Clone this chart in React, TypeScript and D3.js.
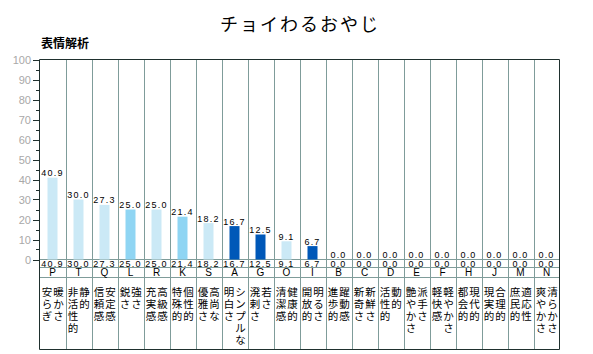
import React from 'react';
import * as d3 from 'd3';

// categories (code letters), values in %, and the two-word labels under each bar
const codes = ['P', 'T', 'Q', 'L', 'R', 'K', 'S', 'A', 'G', 'O', 'I', 'B', 'C', 'D', 'E', 'F', 'H', 'J', 'M', 'N'];
const values = [40.9, 30.0, 27.3, 25.0, 25.0, 21.4, 18.2, 16.7, 12.5, 9.1, 6.7, 0, 0, 0, 0, 0, 0, 0, 0, 0];
const wordsLeft = ['安らぎ', '非活性的', '信頼感', '鋭さ', '充実感', '特殊的', '優雅さ', '明白さ', '溌剌さ', '清潔感',
    '開放的', '進歩的', '新奇さ', '活性的', '艶やかさ', '軽快感', '都会的', '現実的', '庶民的', '爽やかさ'];
const wordsRight = ['暖かさ', '静的', '安定感', '強さ', '高級感', '個性的', '高尚な', 'シンプルな', '若さ', '健康的',
    '明るさ', '躍動感', '新鮮さ', '動的', '派手さ', '軽やかさ', '現代的', '合理的', '適応性', '清らかさ'];
const levels = [0, 0, 0, 1, 0, 1, 0, 2, 2, 0, 2, 0, 0, 0, 0, 0, 0, 0, 0, 0];
const yTicks = [0, 10, 20, 30, 40, 50, 60, 70, 80, 90, 100];

const title = 'チョイわるおやじ';
const subtitle = '表情解析';

const App = () => {
    // Define the dimensions of the chart
    const width = 593;
    const height = 354;
    const left = 39.5;
    const right = 559.5;
    const top = 59.5;
    const zeroY = 259.5;
    const valRowBottom = 267.5;
    const codeRowBottom = 277.5;
    const bottom = 349.5;

    const barColors = ['#cbe9f6', '#8fd5f3', '#0058b8'];
    const gridColor = '#7f9c9a';
    const darkColor = '#1f302e';
    const numFont = '"Liberation Sans", Arial, sans-serif';
    const jpFont = '"Noto Sans CJK JP", sans-serif';

    const x = d3.scaleBand().domain(codes).range([left, right]).padding(0);
    const y = d3.scaleLinear().domain([0, 100]).range([zeroY, top]);
    const bw = 10;
    const minorTicks = d3.range(5, 100, 10);
    const fs = 10.5;
    const pitch = 11.5; // distance between the two character columns

    // each label row: chars of the left word and right word side by side
    const rowsFor = (i: number) => {
        const l = Array.from(wordsLeft[i]);
        const r = Array.from(wordsRight[i]);
        const n = Math.max(l.length, r.length);
        return d3.range(n).map(k => ({ l: l[k] || '', r: r[k] || '' }));
    };

    return (
        <svg width={width} height={height} style={{ position: 'absolute', left: 0, top: 0, background: '#fff' }}>
            <text x={300} y={31} textAnchor="middle" fontFamily={jpFont} fontSize={18} letterSpacing={2} fill="#000">{title}</text>
            <text x={41} y={48} fontFamily={jpFont} fontSize={12} fontWeight="bold" fill="#000">{subtitle}</text>

            {/* vertical grid lines through plot and table */}
            {codes.slice(1).map(c => (
                <line key={'g' + c} x1={Math.round(x(c)!) + 0.5} x2={Math.round(x(c)!) + 0.5} y1={top} y2={bottom}
                    stroke={gridColor} />
            ))}

            {/* table horizontal lines */}
            <line x1={left} x2={right} y1={zeroY} y2={zeroY} stroke={gridColor} />
            <line x1={left} x2={right} y1={valRowBottom} y2={valRowBottom} stroke={gridColor} />
            <line x1={left} x2={right} y1={codeRowBottom} y2={codeRowBottom} stroke={gridColor} />

            {/* bars */}
            {values.map((v, i) => (
                <rect key={'b' + i} x={x(codes[i])! + x.bandwidth() / 2 - bw / 2} y={y(v)} width={bw}
                    height={zeroY - y(v)} fill={barColors[levels[i]]} />
            ))}

            {/* value labels over bars */}
            {values.map((v, i) => (
                <text key={'v' + i} x={x(codes[i])! + x.bandwidth() / 2} y={y(v) - 1.5} textAnchor="middle"
                    fontFamily={numFont} fontSize={9} letterSpacing={1.2} fill="#000">{v.toFixed(1)}</text>
            ))}

            {/* table rows */}
            {values.map((v, i) => (
                <text key={'t' + i} x={x(codes[i])! + x.bandwidth() / 2} y={266.5} textAnchor="middle"
                    fontFamily={numFont} fontSize={9} letterSpacing={1.2} fill="#000">{v.toFixed(1)}</text>
            ))}
            {codes.map(c => (
                <text key={'c' + c} x={x(c)! + x.bandwidth() / 2} y={276} textAnchor="middle"
                    fontFamily={numFont} fontSize={10} fill="#000">{c}</text>
            ))}

            {/* two words per category, written top to bottom side by side */}
            {codes.map((c, i) => (
                <g key={'w' + c}>
                    {rowsFor(i).map((row, k) => {
                        const x0 = x(c)! + 7.5 - fs / 2;
                        const yy = 296 + k * 12;
                        if (row.l && row.r) {
                            return <text key={k} x={x0} y={yy} fontFamily={jpFont} fontSize={fs}
                                letterSpacing={pitch - fs} fill="#000">{row.l + row.r}</text>;
                        }
                        return <text key={k} x={row.l ? x0 : x0 + pitch} y={yy} fontFamily={jpFont} fontSize={fs}
                            fill="#000">{row.l || row.r}</text>;
                    })}
                </g>
            ))}

            {/* frame */}
            <line x1={left} x2={right} y1={top} y2={top} stroke={darkColor} />
            <line x1={left} x2={left} y1={top} y2={bottom} stroke={darkColor} />
            <line x1={right} x2={right} y1={top} y2={bottom} stroke={darkColor} />
            <line x1={left} x2={right} y1={bottom} y2={bottom} stroke={darkColor} />

            {/* y axis ticks */}
            {yTicks.map(t => (
                <g key={'y' + t}>
                    <line x1={33} x2={left} y1={Math.round(y(t)) + 0.5} y2={Math.round(y(t)) + 0.5} stroke={darkColor} />
                    <text x={31} y={y(t) + 4} textAnchor="end" fontFamily={numFont} fontSize={11} fill="#a8a8a8">{t}</text>
                </g>
            ))}
            {minorTicks.map(t => (
                <line key={'m' + t} x1={36} x2={left} y1={Math.round(y(t)) + 0.5} y2={Math.round(y(t)) + 0.5} stroke={darkColor} />
            ))}
        </svg>
    );
};

export default App;
